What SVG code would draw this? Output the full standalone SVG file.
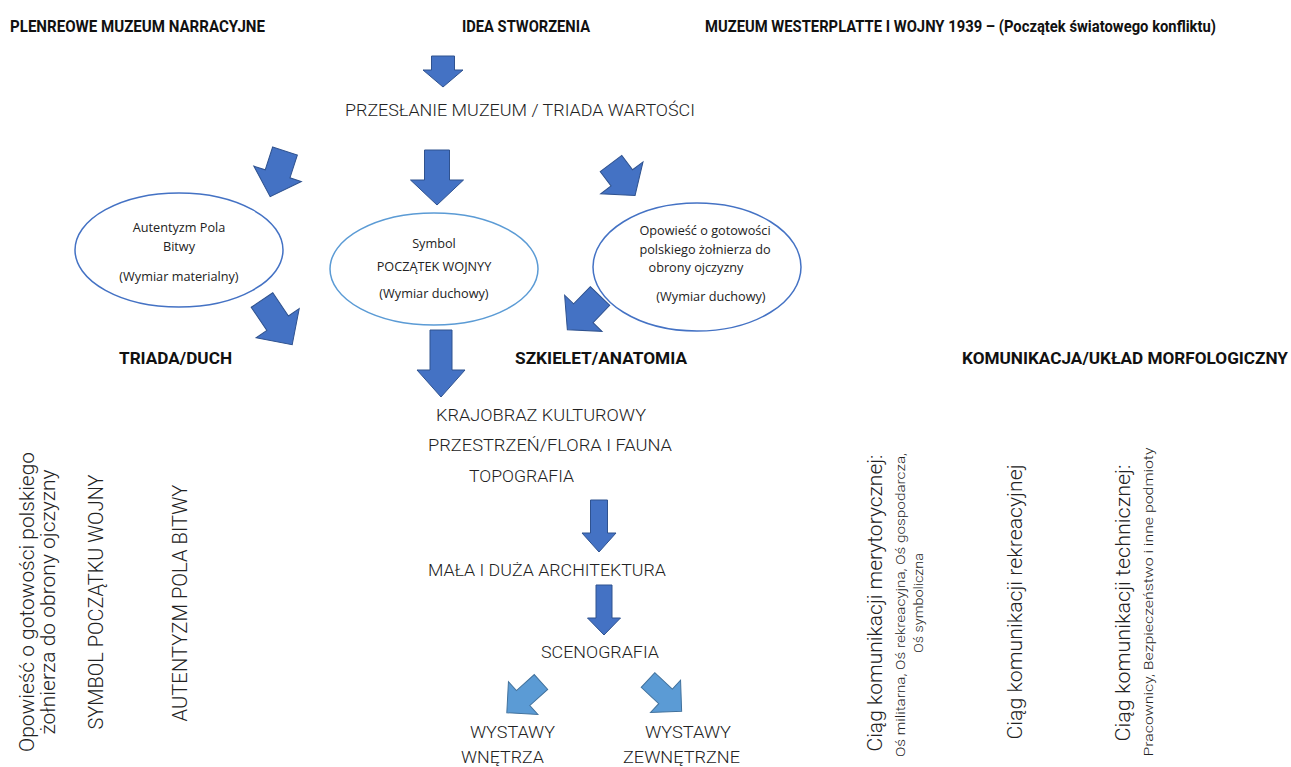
<svg xmlns="http://www.w3.org/2000/svg" width="1291" height="767" viewBox="0 0 1291 767">
<style>
.h{font-family:Roboto,"Liberation Sans",sans-serif;font-weight:700;font-size:17px;fill:#111}
.t{font-family:Roboto,"Liberation Sans",sans-serif;font-weight:300;font-size:17px;fill:#222}
.e{font-family:"Open Sans","Noto Sans","Liberation Sans",sans-serif;font-size:12.7px;fill:#222;text-anchor:middle}
.v{font-family:Roboto,"Liberation Sans",sans-serif;font-weight:300;font-size:20px;fill:#222;text-anchor:middle}
.vs{font-family:Roboto,"Liberation Sans",sans-serif;font-weight:300;font-size:13px;fill:#222;text-anchor:middle}
.ad{fill:#4472C4;stroke:#2F528F;stroke-width:1}
.al{fill:#5B9BD5;stroke:#41719C;stroke-width:1}
.el{fill:#fff;stroke-width:1.5}
</style>
<rect width="1291" height="767" fill="#fff"/>

<g id="headers">
<text class="h" x="10" y="32" textLength="255" lengthAdjust="spacingAndGlyphs">PLENREOWE MUZEUM NARRACYJNE</text>
<text class="h" x="462" y="32" textLength="128" lengthAdjust="spacingAndGlyphs">IDEA STWORZENIA</text>
<text class="h" x="705" y="32" textLength="511" lengthAdjust="spacingAndGlyphs">MUZEUM WESTERPLATTE I WOJNY 1939 – (Początek światowego konfliktu)</text>
</g>

<g id="przeslanie">
<text class="t" x="345" y="116" font-size="18" textLength="350" lengthAdjust="spacingAndGlyphs">PRZESŁANIE MUZEUM / TRIADA WARTOŚCI</text>
</g>

<g id="connectors">
<path class="ad" transform="translate(443,56)" d="M-11.5,0 L11.5,0 L11.5,14 L20,14 L0,31 L-20,14 L-11.5,14 Z"/>
<path class="ad" transform="translate(285,151) rotate(18)" d="M-13,0 L13,0 L13,24 L25,24 L0,48 L-25,24 L-13,24 Z"/>
<path class="ad" transform="translate(437,150)" d="M-12.5,0 L12.5,0 L12.5,30 L26.5,30 L0,55 L-26.5,30 L-12.5,30 Z"/>
<path class="ad" transform="translate(611,163.5) rotate(-37)" d="M-13.5,0 L13.5,0 L13.5,18 L26.5,18 L0,40 L-26.5,18 L-13.5,18 Z"/>
<path class="ad" transform="translate(600,296) rotate(44)" d="M-13.5,0 L13.5,0 L13.5,24 L26,24 L0,47 L-26,24 L-13.5,24 Z"/>
<path class="ad" transform="translate(262,300) rotate(-34)" d="M-13,0 L13,0 L13,28 L26,28 L0,54 L-26,28 L-13,28 Z"/>
<path class="ad" transform="translate(441,330)" d="M-11,0 L11,0 L11,40 L24,40 L0,67 L-24,40 L-11,40 Z"/>
<path class="ad" transform="translate(599,500)" d="M-8.5,0 L8.5,0 L8.5,33 L17,33 L0,52 L-17,33 L-8.5,33 Z"/>
<path class="ad" transform="translate(604,585)" d="M-8,0 L8,0 L8,33 L16.5,33 L0,50 L-16.5,33 L-8,33 Z"/>
<path class="al" transform="translate(541,682) rotate(48)" d="M-10,0 L10,0 L10,24 L22,24 L0,46 L-22,24 L-10,24 Z"/>
<path class="al" transform="translate(648,680) rotate(-47)" d="M-10,0 L10,0 L10,24 L22,24 L0,46 L-22,24 L-10,24 Z"/>
</g>

<g id="ellipse-autentyzm">
<ellipse class="el" cx="179" cy="250" rx="104" ry="57" stroke="#4472C4"/>
<text class="e" x="179" y="232">Autentyzm Pola</text>
<text class="e" x="179" y="251">Bitwy</text>
<text class="e" x="179" y="281">(Wymiar materialny)</text>
</g>

<g id="ellipse-symbol">
<ellipse class="el" cx="434" cy="269" rx="104" ry="56" stroke="#5B9BD5"/>
<text class="e" x="434" y="248">Symbol</text>
<text class="e" x="434" y="271">POCZĄTEK WOJNYY</text>
<text class="e" x="434" y="298">(Wymiar duchowy)</text>
</g>

<g id="ellipse-opowiesc">
<ellipse class="el" cx="697" cy="267" rx="104" ry="64" stroke="#4472C4"/>
<text class="e" x="705" y="235">Opowieść o gotowości</text>
<text class="e" x="705" y="254">polskiego żołnierza do</text>
<text class="e" x="696" y="272">obrony ojczyzny</text>
<text class="e" x="711" y="301">(Wymiar duchowy)</text>
</g>

<g id="section-headers">
<text class="h" x="119" y="364" font-size="18" textLength="113" lengthAdjust="spacingAndGlyphs">TRIADA/DUCH</text>
<text class="h" x="515" y="364" font-size="18" textLength="172" lengthAdjust="spacingAndGlyphs">SZKIELET/ANATOMIA</text>
<text class="h" x="962" y="364" font-size="18" textLength="326" lengthAdjust="spacingAndGlyphs">KOMUNIKACJA/UKŁAD MORFOLOGICZNY</text>
</g>

<g id="szkielet">
<text class="t" x="436" y="421" textLength="210" lengthAdjust="spacingAndGlyphs">KRAJOBRAZ KULTUROWY</text>
<text class="t" x="428" y="451" textLength="244" lengthAdjust="spacingAndGlyphs">PRZESTRZEŃ/FLORA I FAUNA</text>
<text class="t" x="469" y="482" textLength="105" lengthAdjust="spacingAndGlyphs">TOPOGRAFIA</text>
<text class="t" x="428" y="576" textLength="238" lengthAdjust="spacingAndGlyphs">MAŁA I DUŻA ARCHITEKTURA</text>
<text class="t" x="541" y="658" textLength="118" lengthAdjust="spacingAndGlyphs">SCENOGRAFIA</text>
<text class="t" x="470" y="738" textLength="85" lengthAdjust="spacingAndGlyphs">WYSTAWY</text>
<text class="t" x="461" y="763" textLength="83" lengthAdjust="spacingAndGlyphs">WNĘTRZA</text>
<text class="t" x="645" y="738" textLength="86" lengthAdjust="spacingAndGlyphs">WYSTAWY</text>
<text class="t" x="623" y="763" textLength="117" lengthAdjust="spacingAndGlyphs">ZEWNĘTRZNE</text>
</g>

<g id="triada-vertical">
<text class="v" transform="translate(34,602) rotate(-90)" textLength="300" lengthAdjust="spacingAndGlyphs">Opowieść o gotowości polskiego</text>
<text class="v" transform="translate(55,602) rotate(-90)" textLength="265" lengthAdjust="spacingAndGlyphs">żołnierza do obrony ojczyzny</text>
<text class="v" transform="translate(103,602) rotate(-90)" textLength="255" lengthAdjust="spacingAndGlyphs">SYMBOL POCZĄTKU WOJNY</text>
<text class="v" transform="translate(187,603) rotate(-90)" textLength="237" lengthAdjust="spacingAndGlyphs">AUTENTYZM POLA BITWY</text>
</g>

<g id="komunikacja-vertical">
<text class="v" transform="translate(882,603) rotate(-90)" textLength="297" lengthAdjust="spacingAndGlyphs">Ciąg komunikacji merytorycznej:</text>
<text class="vs" transform="translate(905,605) rotate(-90)" textLength="304" lengthAdjust="spacingAndGlyphs">Oś militarna, Oś rekreacyjna, Oś gospodarcza,</text>
<text class="vs" transform="translate(923,603) rotate(-90)" textLength="100" lengthAdjust="spacingAndGlyphs">Oś symboliczna</text>
<text class="v" transform="translate(1022,602) rotate(-90)" textLength="275" lengthAdjust="spacingAndGlyphs">Ciąg komunikacji rekreacyjnej</text>
<text class="v" transform="translate(1130,603) rotate(-90)" textLength="277" lengthAdjust="spacingAndGlyphs">Ciąg komunikacji technicznej:</text>
<text class="vs" transform="translate(1153,602) rotate(-90)" textLength="309" lengthAdjust="spacingAndGlyphs">Pracownicy, Bezpieczeństwo i inne podmioty</text>
</g>
</svg>
